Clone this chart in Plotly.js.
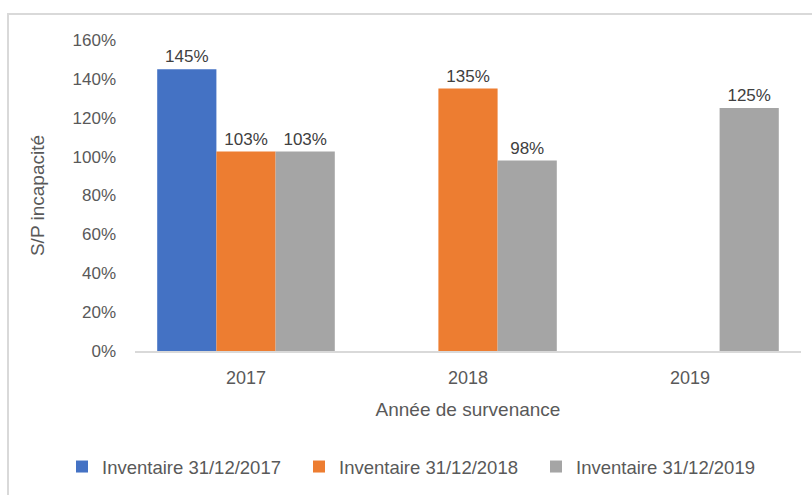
<!DOCTYPE html>
<html>
<head>
<meta charset="utf-8">
<script src="https://cdn.plot.ly/plotly-3.0.1.min.js"></script>
<style>html,body{margin:0;padding:0;background:#fff;}#chart{width:812px;height:495px;}</style>
</head>
<body>
<div id="chart"></div>
<script>
const categories = ['2017', '2018', '2019'];
const seriesNames = ['Inventaire 31/12/2017', 'Inventaire 31/12/2018', 'Inventaire 31/12/2019'];
const inv2017 = [1.45, null, null];
const inv2018 = [1.026, 1.35, null];
const inv2019 = [1.026, 0.98, 1.25];
const colors = ['#4472C4', '#ED7D31', '#A5A5A5'];
const yTickVals = [0, 0.2, 0.4, 0.6, 0.8, 1.0, 1.2, 1.4, 1.6];

const FONT = 'Liberation Sans, Arial, sans-serif';
const seriesValues = [inv2017, inv2018, inv2019];
const legendIds = ['legend', 'legend2', 'legend3'];
const legendLeft = [62, 299, 536];

const traces = seriesValues.map((vals, i) => ({
  type: 'bar',
  name: seriesNames[i],
  x: categories,
  y: vals,
  legend: legendIds[i],
  marker: {color: colors[i]},
  texttemplate: '%{y:.0%}',
  textposition: 'outside',
  cliponaxis: false,
  textfont: {family: FONT, size: 17, color: '#404040'},
  hoverinfo: 'skip'
}));

const layout = {
  width: 812, height: 495,
  margin: {l: 135, r: 11, t: 40, b: 144},
  paper_bgcolor: '#fff', plot_bgcolor: '#fff',
  barmode: 'group', bargap: 0.2, bargroupgap: 0,
  showlegend: true,
  xaxis: {
    type: 'category',
    showgrid: false, zeroline: false,
    showline: true, linecolor: '#d9d9d9', linewidth: 1.5,
    ticks: '', ticklabelstandoff: 10,
    tickfont: {family: FONT, size: 18, color: '#595959'},
    title: {text: 'Année de survenance', font: {family: FONT, size: 19, color: '#595959'}, standoff: 15}
  },
  yaxis: {
    range: [0, 1.6], tickvals: yTickVals, tickformat: '.0%',
    showgrid: false, zeroline: false, showline: false,
    ticks: '', ticklabelstandoff: 18,
    tickfont: {family: FONT, size: 17, color: '#595959'},
    title: {text: 'S/P incapacité', font: {family: FONT, size: 19, color: '#595959'}, standoff: 22}
  },
  shapes: [{
    type: 'rect', xref: 'paper', yref: 'paper',
    x0: (8-135)/666, x1: (830-135)/666,
    y0: (351-520)/311, y1: (351-14)/311,
    line: {color: '#d9d9d9', width: 2}, fillcolor: 'rgba(0,0,0,0)', layer: 'below'
  }]
};

legendIds.forEach((id, i) => {
  layout[id] = {
    orientation: 'h', xref: 'container', yref: 'container',
    x: legendLeft[i]/812, xanchor: 'left', y: 1 - 467/495, yanchor: 'middle',
    bgcolor: 'rgba(0,0,0,0)',
    font: {family: FONT, size: 18.5, color: '#595959'},
    itemclick: false
  };
});

Plotly.newPlot('chart', traces, layout, {displayModeBar: false, staticPlot: true});
</script>
</body>
</html>
